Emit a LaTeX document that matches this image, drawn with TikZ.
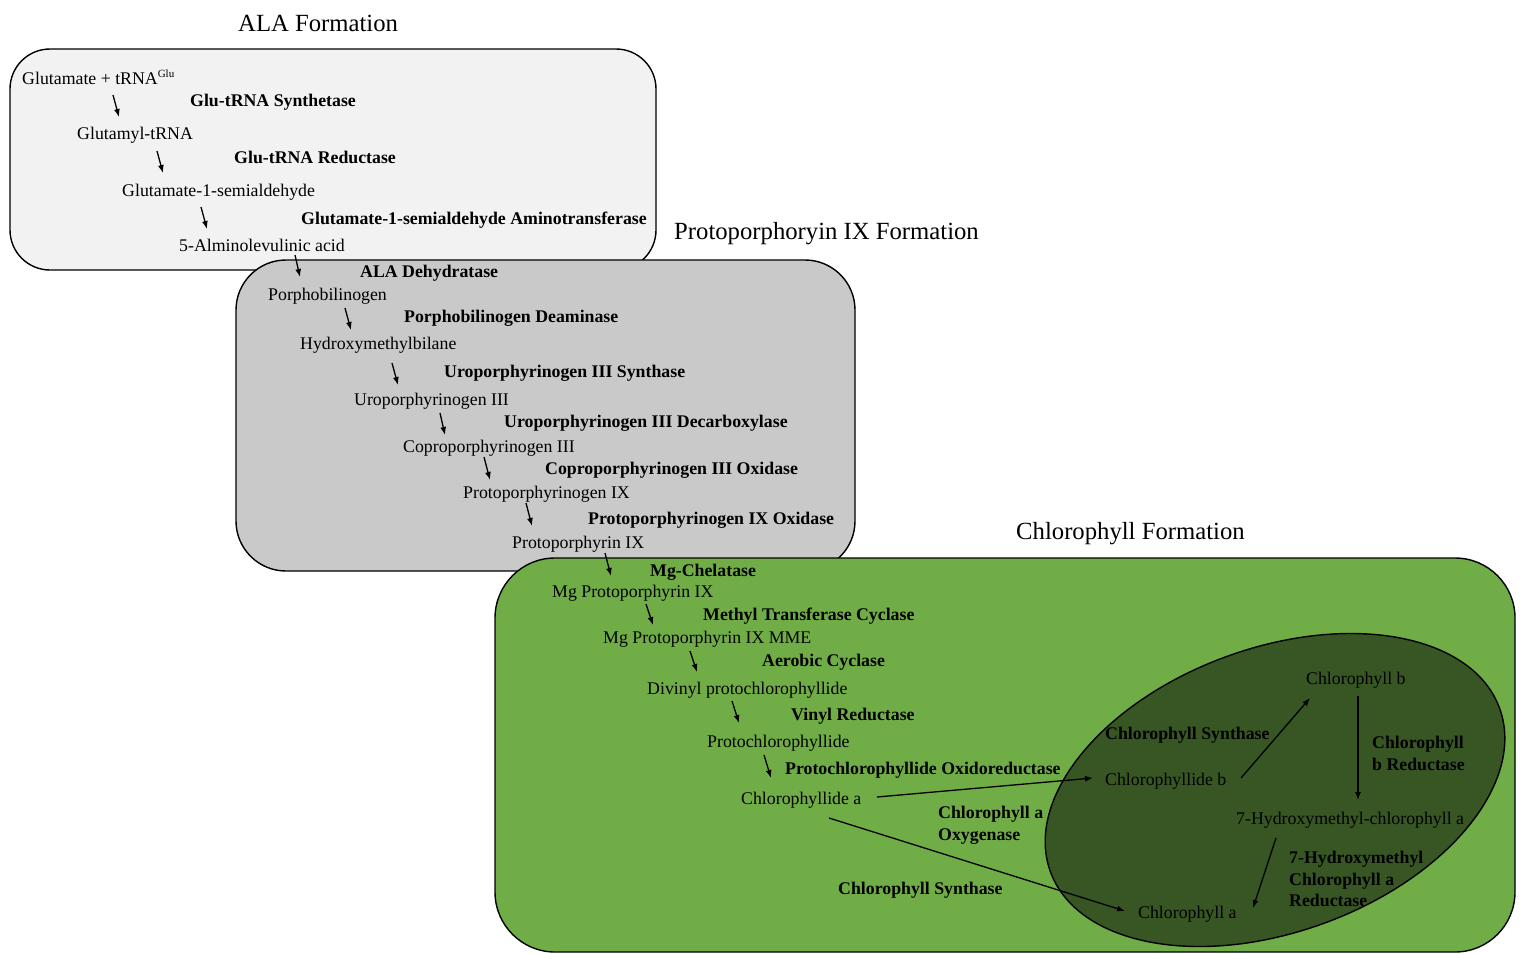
\documentclass[tikz,border=0pt]{standalone}
\usepackage{fontspec}
\setmainfont{Liberation Serif}
\usetikzlibrary{arrows.meta,shapes.geometric,calc}
\definecolor{boxA}{HTML}{F2F2F2}
\definecolor{boxB}{HTML}{C9C9C9}
\definecolor{boxC}{HTML}{70AD47}
\definecolor{ellC}{HTML}{375623}
\begin{document}
\begin{tikzpicture}[x=1pt,y=-1pt,
  t/.style={anchor=west,inner sep=0pt,font=\fontsize{17.8}{20}\selectfont,text height=14pt,text depth=2pt},
  en/.style={t,font=\fontsize{17.8}{20}\selectfont\bfseries},
  eb/.style={anchor=north west,inner sep=0pt,align=left,font=\fontsize{17.8}{21.5}\selectfont\bfseries},
  ttl/.style={anchor=west,inner sep=0pt,font=\fontsize{24.7}{28}\selectfont},
  panel/.style={draw=black,line width=1.4pt},
  arr/.style={line width=1.3pt,-{Latex[length=8pt,width=6pt]}}]
\useasboundingbox (0,0) rectangle (1522,953);
% panels
\draw[panel,fill=boxA,rounded corners=40pt] (10,49) rectangle (656,270);
\draw[panel,fill=boxB,rounded corners=50pt] (236,260) rectangle (855,571);
\draw[panel,fill=boxC,rounded corners=60pt] (495,558) rectangle (1515,952);
\node[ellipse,draw=black,line width=1.4pt,fill=ellC,minimum width=478pt,minimum height=284pt,inner sep=0pt,rotate=20] (ell) at (1275,790) {};
% titles
\node[ttl] (tA) at (238,23) {ALA Formation};
\node[ttl] (tB) at (674,234) {Protoporphoryin IX Formation};
\node[ttl] (tC) at (1016,534) {Chlorophyll Formation};
% ALA formation
\node[t] (glu) at (22,78) {Glutamate + tRNA\textsuperscript{\fontsize{11}{12}\selectfont Glu}};
\node[en] (e1) at (190,100) {Glu-tRNA Synthetase};
\node[t] (glutrna) at (77,133) {Glutamyl-tRNA};
\node[en] (e2) at (234,157) {Glu-tRNA Reductase};
\node[t] (gsa) at (122,190) {Glutamate-1-semialdehyde};
\node[en] (e3) at (301,218) {Glutamate-1-semialdehyde Aminotransferase};
\node[t] (ala) at (179,245) {5-Alminolevulinic acid};
% Protoporphyrin IX formation
\node[en] (e4) at (360,271) {ALA Dehydratase};
\node[t] (pbg) at (268,294) {Porphobilinogen};
\node[en] (e5) at (404,316) {Porphobilinogen Deaminase};
\node[t] (hmb) at (300,343) {Hydroxymethylbilane};
\node[en] (e6) at (444,371) {Uroporphyrinogen III Synthase};
\node[t] (uro) at (354,399) {Uroporphyrinogen III};
\node[en] (e7) at (504,421) {Uroporphyrinogen III Decarboxylase};
\node[t] (copro) at (403,446) {Coproporphyrinogen III};
\node[en] (e8) at (545,468) {Coproporphyrinogen III Oxidase};
\node[t] (protogen) at (463,492) {Protoporphyrinogen IX};
\node[en] (e9) at (588,518) {Protoporphyrinogen IX Oxidase};
\node[t] (proto) at (512,542) {Protoporphyrin IX};
% Chlorophyll formation
\node[en] (e10) at (650,570) {Mg-Chelatase};
\node[t] (mgp) at (552,591) {Mg Protoporphyrin IX};
\node[en] (e11) at (703,614) {Methyl Transferase Cyclase};
\node[t] (mme) at (603,637) {Mg Protoporphyrin IX MME};
\node[en] (e12) at (762,660) {Aerobic Cyclase};
\node[t] (dv) at (647,688) {Divinyl protochlorophyllide};
\node[en] (e13) at (791,714) {Vinyl Reductase};
\node[t] (pchl) at (707,741) {Protochlorophyllide};
\node[en] (e14) at (785,768) {Protochlorophyllide Oxidoreductase};
\node[t] (chlidea) at (741,798) {Chlorophyllide a};
\node[eb] (e15) at (938,806) {Chlorophyll a\\Oxygenase};
\node[en] (e16) at (838,888) {Chlorophyll Synthase};
% ellipse contents
\node[en] (e17) at (1105,733) {Chlorophyll Synthase};
\node[t] (chlideb) at (1105,779) {Chlorophyllide b};
\node[t] (chlb) at (1306,678) {Chlorophyll b};
\node[eb] (e18) at (1372,736) {Chlorophyll\\b Reductase};
\node[t] (hm) at (1236,818) {7-Hydroxymethyl-chlorophyll a};
\node[eb] (e19) at (1289,851) {7-Hydroxymethyl\\Chlorophyll a\\Reductase};
\node[t] (chla) at (1138,912) {Chlorophyll a};
% arrows
\draw[arr] ($(glu.west)+(91,17)$) -- ($(glutrna.west)+(42,-16)$);
\draw[arr] ($(glutrna.west)+(80,18)$) -- ($(gsa.west)+(41,-17)$);
\draw[arr] ($(gsa.west)+(79,17)$) -- ($(ala.west)+(28,-16)$);
\draw[arr] ($(ala.west)+(116,10)$) -- ($(pbg.west)+(32,-17)$);
\draw[arr] ($(pbg.west)+(77,14)$) -- ($(hmb.west)+(51,-13)$);
\draw[arr] ($(hmb.west)+(92,20)$) -- ($(uro.west)+(44,-14)$);
\draw[arr] ($(uro.west)+(86,14)$) -- ($(copro.west)+(42,-11)$);
\draw[arr] ($(copro.west)+(81,11)$) -- ($(protogen.west)+(27,-12)$);
\draw[arr] ($(protogen.west)+(63,11)$) -- ($(proto.west)+(20,-16)$);
\draw[arr] ($(proto.west)+(93,11)$) -- ($(mgp.west)+(59,-15)$);
\draw[arr] ($(mgp.west)+(94,13)$) -- ($(mme.west)+(50,-12)$);
\draw[arr] ($(mme.west)+(87,14)$) -- ($(dv.west)+(50,-16)$);
\draw[arr] ($(dv.west)+(85,13)$) -- ($(pchl.west)+(32,-18)$);
\draw[arr] ($(pchl.west)+(57,14)$) -- ($(chlidea.west)+(30,-20)$);
\draw[arr] ($(chlidea.west)+(136,-1)$) -- ($(chlideb.west)+(-12,-1)$);
\draw[arr] ($(chlidea.west)+(88,20)$) -- ($(chla.west)+(-13,-1)$);
\draw[arr] ($(chlideb.west)+(136,-1)$) -- ($(chlb.west)+(4,20)$);
\draw[arr] ($(chlb.west)+(52,18)$) -- ($(hm.west)+(122,-18)$);
\draw[arr] ($(hm.west)+(40,20)$) -- ($(chla.west)+(115,-4)$);
\end{tikzpicture}
\end{document}
